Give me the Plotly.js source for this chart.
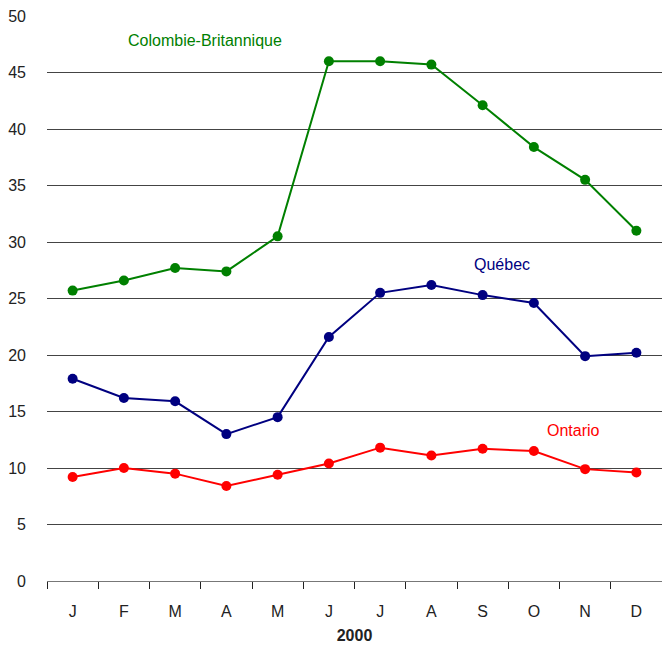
<!DOCTYPE html>
<html>
<head>
<meta charset="utf-8">
<script src="https://cdn.plot.ly/plotly-3.0.1.min.js"></script>
<style>html,body{margin:0;padding:0;background:#fff;}#chart{width:662px;height:649px;}</style>
</head>
<body>
<div id="chart"></div>
<script>
const months = ['J','F','M','A','M','J','J','A','S','O','N','D'];
const monthIds = ['m1','m2','m3','m4','m5','m6','m7','m8','m9','m10','m11','m12'];
const colombieBritannique = [25.7, 26.6, 27.7, 27.4, 30.5, 46.0, 46.0, 45.7, 42.1, 38.4, 35.5, 31.0];
const quebec = [17.9, 16.2, 15.9, 13.0, 14.5, 21.6, 25.5, 26.2, 25.3, 24.6, 19.9, 20.2];
const ontario = [9.2, 10.0, 9.5, 8.4, 9.4, 10.4, 11.8, 11.1, 11.7, 11.5, 9.9, 9.6];
const yTicks = [0, 5, 10, 15, 20, 25, 30, 35, 40, 45, 50];
const xTitle = '2000';

const FONT = '"Liberation Sans Narrow", "Arial Narrow", "Liberation Sans", sans-serif';

function series(y, color) {
  return {
    x: monthIds, y: y, type: 'scatter', mode: 'lines+markers',
    line: {color: color, width: 2},
    marker: {color: color, size: 10},
    hoverinfo: 'skip', showlegend: false, cliponaxis: false
  };
}

const data = [
  series(colombieBritannique, '#008000'),
  series(quebec, '#000080'),
  series(ontario, '#ff0000')
];

const layout = {
  width: 662, height: 649,
  margin: {l: 47, r: 0, t: 16, b: 68},
  paper_bgcolor: '#fff', plot_bgcolor: '#fff',
  font: {family: FONT, size: 16, color: '#222'},
  xaxis: {
    type: 'category', tickmode: 'array', tickvals: monthIds, ticktext: months,
    tickson: 'boundaries', ticks: 'outside', ticklen: 7, tickcolor: '#222',
    ticklabelstandoff: 16,
    showline: true, linecolor: '#777', linewidth: 1, showgrid: false,
    range: [-0.5, 11.5], fixedrange: true,
    title: {text: '<b>' + xTitle + '</b>', font: {family: FONT, size: 16, color: '#222'}, standoff: 10}
  },
  yaxis: {
    range: [0, 50], tickmode: 'array', tickvals: yTicks,
    showgrid: true, gridcolor: '#444', gridwidth: 1, zeroline: false,
    showline: false, ticks: '', ticklabelstandoff: 20, fixedrange: true
  },
  annotations: [
    {x: 'm3', y: 47.8, xref: 'x', yref: 'y', text: 'Colombie-Britannique', showarrow: false, font: {family: FONT, size: 16, color: '#008000'}, xshift: 30},
    {x: 'm9', y: 28.0, xref: 'x', yref: 'y', text: 'Québec', showarrow: false, font: {family: FONT, size: 16, color: '#000080'}, xshift: 19},
    {x: 'm10', y: 13.3, xref: 'x', yref: 'y', text: 'Ontario', showarrow: false, font: {family: FONT, size: 16, color: '#ff0000'}, xshift: 40}
  ]
};

Plotly.newPlot('chart', data, layout, {displayModeBar: false, staticPlot: true});
</script>
</body>
</html>
